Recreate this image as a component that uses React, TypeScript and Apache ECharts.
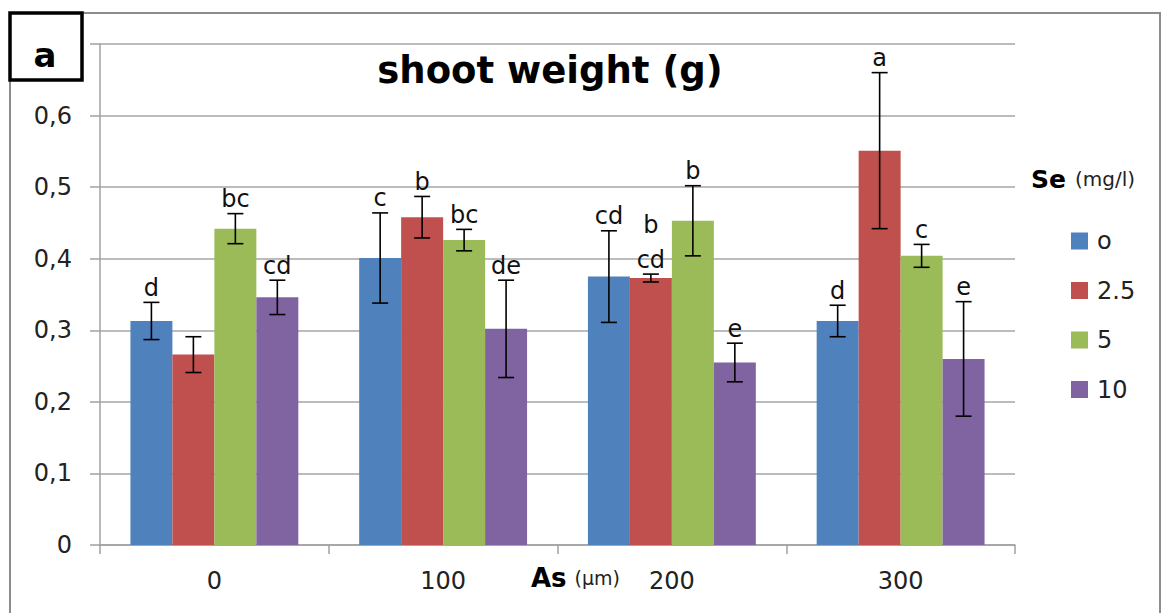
import React, { useEffect, useRef } from "react";
import * as echarts from "echarts";

const categories = ["0", "100", "200", "300"];
const seLevels = ["o", "2.5", "5", "10"];
const seColors = ["#4F81BD", "#C0504D", "#9BBB59", "#8064A2"];

const means0 = [0.313, 0.401, 0.375, 0.313];
const means25 = [0.266, 0.458, 0.373, 0.551];
const means5 = [0.442, 0.426, 0.453, 0.404];
const means10 = [0.346, 0.302, 0.255, 0.26];

const err0 = [0.026, 0.063, 0.064, 0.022];
const err25 = [0.025, 0.029, 0.0055, 0.109];
const err5 = [0.021, 0.015, 0.049, 0.016];
const err10 = [0.024, 0.068, 0.027, 0.08];

const letters0 = ["d", "c", "cd", "d"];
const letters25 = ["", "b", "b\ncd", "a"];
const letters5 = ["bc", "bc", "b", "c"];
const letters10 = ["cd", "de", "e", "e"];

const yTicks = [0, 0.1, 0.2, 0.3, 0.4, 0.5, 0.6, 0.7];

const FONT = "'DejaVu Sans', sans-serif";
const CAT_GAP = 0.266;

export default function App() {
  const ref = useRef<HTMLDivElement>(null);
  useEffect(() => {
    if (!ref.current) return;
    const chart = echarts.init(ref.current, undefined, { renderer: "svg" });
    const means = [means0, means25, means5, means10];
    const errs = [err0, err25, err5, err10];
    const letters = [letters0, letters25, letters5, letters10];

    const barSeries = seLevels.map((name, s) => ({
      name,
      type: "bar",
      data: means[s],
      itemStyle: { color: seColors[s] },
      barGap: "0%",
      barCategoryGap: CAT_GAP * 100 + "%",
      z: 2,
    }));

    const errSeries = seLevels.map((name, s) => ({
      name: "err-" + name,
      type: "custom",
      z: 5,
      data: categories.map((c, i) => [i, means[s][i], errs[s][i]]),
      encode: { x: 0, y: 1 },
      renderItem: (params: any, api: any) => {
        const ci = api.value(0);
        const v = api.value(1);
        const e = api.value(2);
        const band = api.size([1, 0])[0];
        const bw = (band * (1 - CAT_GAP)) / 4;
        const cx = api.coord([ci, 0])[0] + (s - 1.5) * bw;
        const yTop = api.coord([ci, v + e])[1];
        const yBot = api.coord([ci, v - e])[1];
        const cap = 8;
        const ls = { stroke: "#000", lineWidth: 1.6 };
        return {
          type: "group",
          children: [
            { type: "line", shape: { x1: cx, y1: yTop, x2: cx, y2: yBot }, style: ls },
            { type: "line", shape: { x1: cx - cap, y1: yTop, x2: cx + cap, y2: yTop }, style: ls },
            { type: "line", shape: { x1: cx - cap, y1: yBot, x2: cx + cap, y2: yBot }, style: ls },
            {
              type: "text",
              style: {
                text: letters[s][params.dataIndex],
                x: cx,
                y: yTop + 3,
                align: "center",
                verticalAlign: "bottom",
                lineHeight: 35,
                fill: "#111",
                font: "24px " + FONT,
              },
            },
          ],
        };
      },
    }));

    chart.setOption({
      animation: false,
      backgroundColor: "#fff",
      textStyle: { fontFamily: FONT },
      grid: { left: 100, right: 149, top: 44, bottom: 68, containLabel: false },
      xAxis: {
        type: "category",
        data: categories,
        boundaryGap: true,
        axisLine: { lineStyle: { color: "#a0a0a0", width: 1.5 } },
        axisTick: { show: true, length: 9, lineStyle: { color: "#a0a0a0", width: 1.5 } },
        axisLabel: { color: "#222", fontSize: 24, margin: 24, fontFamily: FONT },
      },
      yAxis: {
        type: "value",
        min: yTicks[0],
        max: yTicks[yTicks.length - 1],
        interval: 0.1,
        axisLine: { show: true, lineStyle: { color: "#a0a0a0", width: 1.5 } },
        axisTick: { show: true, length: 10, lineStyle: { color: "#a0a0a0", width: 1.5 } },
        splitLine: { lineStyle: { color: "#a6a6a6", width: 1.5 } },
        axisLabel: {
          color: "#222",
          fontSize: 24,
          margin: 28,
          fontFamily: FONT,
          formatter: (v: number) =>
            Math.abs(v - 0.7) < 1e-6 ? "" : v === 0 ? "0" : v.toFixed(1).replace(".", ","),
        },
      },
      legend: {
        data: seLevels,
        orient: "vertical",
        left: 1066,
        top: 223,
        itemWidth: 17,
        itemHeight: 17,
        itemGap: 23.5,
        icon: "rect",
        textStyle: { fontSize: 24, color: "#222", fontFamily: FONT, lineHeight: 26, padding: [0, 0, 0, 4] },
        selectedMode: false,
      },
      graphic: [
        {
          type: "rect",
          z: 0,
          silent: true,
          shape: { x: 10, y: 13, width: 1150, height: 640 },
          style: { fill: "none", stroke: "#8c8c8c", lineWidth: 2 },
        },
        {
          type: "rect",
          z: 10,
          shape: { x: 10, y: 13, width: 72, height: 67 },
          style: { fill: "#fff", stroke: "#000", lineWidth: 3.5 },
        },
        {
          type: "text",
          z: 11,
          style: {
            text: "a",
            x: 45,
            y: 55,
            align: "center",
            verticalAlign: "middle",
            font: "bold 34px " + FONT,
            fill: "#000",
          },
        },
        {
          type: "text",
          z: 11,
          style: {
            text: "shoot weight (g)",
            x: 550,
            y: 70,
            align: "center",
            verticalAlign: "middle",
            font: "bold 37px " + FONT,
            fill: "#000",
          },
        },
        {
          type: "text",
          z: 11,
          style: {
            text: "{b|Se}{n|(mg/l)}",
            x: 1031,
            y: 179,
            verticalAlign: "middle",
            rich: {
              b: { font: "bold 25px " + FONT, fill: "#000" },
              n: { font: "20px " + FONT, fill: "#222", padding: [0, 0, 0, 9] },
            },
          },
        },
        {
          type: "text",
          z: 11,
          style: {
            text: "{b|As}{n|(µm)}",
            x: 531,
            y: 578,
            verticalAlign: "middle",
            rich: {
              b: { font: "bold 26px " + FONT, fill: "#000" },
              n: { font: "19px " + FONT, fill: "#222", padding: [0, 0, 0, 8] },
            },
          },
        },
      ],
      series: [...barSeries, ...errSeries],
    });
    return () => chart.dispose();
  }, []);
  return (
    <div
      ref={ref}
      style={{ position: "absolute", left: 0, top: 0, width: 1164, height: 613, background: "#fff" }}
    />
  );
}
